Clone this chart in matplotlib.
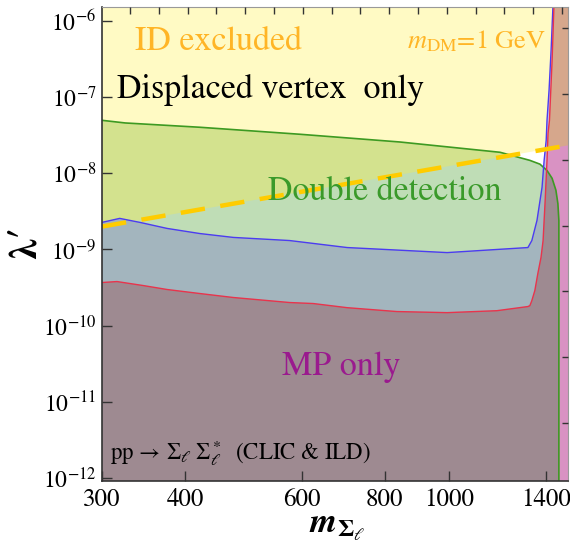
import matplotlib
matplotlib.use("Agg")
import matplotlib.pyplot as plt
import numpy as np
from matplotlib.ticker import FixedLocator, LogFormatterMathtext, NullLocator

plt.rcParams["font.family"] = ["STIXGeneral", "DejaVu Serif"]
plt.rcParams["mathtext.fontset"] = "stix"

# axis ranges
XMIN, XMAX = 300, 1510
YMIN, YMAX = 9.1e-13, 1.53e-6

# orange dashed line (ID bound, m_DM = 1 GeV)
dash_m = [300, 1510]
dash_lam = [2.0e-9, 2.33e-8]

# green curve (double detection)
green_m = [300, 325, 421, 596, 843, 1193, 1287, 1323, 1370, 1404, 1429, 1448,
           1458, 1463, 1463]
green_lam = [4.97e-8, 4.59e-8, 4.03e-8, 3.26e-8, 2.58e-8, 1.89e-8, 1.58e-8,
             1.48e-8, 1.32e-8, 1.09e-8, 8.6e-9, 6.0e-9, 4.0e-9, 2.4e-9, YMIN]

# blue curve
blue_m = [300, 319, 342, 376, 421, 473, 575, 702, 993, 1180, 1314, 1332,
          1356, 1380, 1390, 1400, 1404, 1414, 1424, 1433]
blue_lam = [2.27e-9, 2.56e-9, 2.27e-9, 1.89e-9, 1.62e-9, 1.44e-9, 1.31e-9,
            1.06e-9, 9.1e-10, 1.0e-9, 1.06e-9, 1.31e-9, 2.41e-9, 6.55e-9,
            1.48e-8, 2.72e-8, 4.97e-8, 1.24e-7, 4.15e-7, YMAX]

# red curve (MP)
red_m = [300, 316, 346, 376, 421, 473, 575, 624, 702, 834, 993, 1180, 1314,
         1323, 1332, 1346, 1360, 1375, 1385, 1395, 1404, 1409, 1416, 1429, 1438]
red_lam = [3.68e-10, 3.79e-10, 3.36e-10, 2.98e-10, 2.64e-10, 2.34e-10,
           2.01e-10, 1.95e-10, 1.72e-10, 1.53e-10, 1.48e-10, 1.57e-10,
           1.78e-10, 1.83e-10, 2.13e-10, 2.89e-10, 4.83e-10, 7.85e-10,
           1.31e-9, 4.42e-9, 1.48e-8, 3.36e-8, 4.97e-8, 3.07e-7, YMAX]

fig = plt.figure(figsize=(5.7, 5.54), dpi=100)
ax = fig.add_axes([102 / 570, 1 - 481 / 554, 466 / 570, 474 / 554])
ax.set_xscale("log")
ax.set_yscale("log")
ax.set_xlim(XMIN, XMAX)
ax.set_ylim(YMIN, YMAX)

# region polygons
y_x = dash_m + [XMAX, XMIN]
y_y = dash_lam + [YMAX, YMAX]
g_x = green_m + [XMIN]
g_y = green_lam + [YMIN]
b_x = blue_m + [XMAX, XMAX, XMIN]
b_y = blue_lam + [YMAX, YMIN, YMIN]
r_x = red_m + [XMAX, XMAX, XMIN]
r_y = red_lam + [YMAX, YMIN, YMIN]

(pY,) = ax.fill(y_x, y_y, color="#fffac4", lw=0)
(pG,) = ax.fill(g_x, g_y, color="#bfddb6", lw=0)
(p,) = ax.fill(y_x, y_y, color="#d3e28e", lw=0)
p.set_clip_path(pG)
ax.fill(b_x, b_y, color="#c9bde6", lw=0)
(p,) = ax.fill(b_x, b_y, color="#a3b5be", lw=0)
p.set_clip_path(pG)
ax.fill(r_x, r_y, color="#d992c3", lw=0)
(p,) = ax.fill(r_x, r_y, color="#d6a78c", lw=0)
p.set_clip_path(pY)
(p,) = ax.fill(r_x, r_y, color="#9e8a91", lw=0)
p.set_clip_path(pG)

ax.plot(green_m, green_lam, color="#3d9a22", lw=1.2)
ax.plot(blue_m, blue_lam, color="#4b3cf0", lw=1.0)
ax.plot(red_m, red_lam, color="#e8344c", lw=1.0)
ax.plot(dash_m, dash_lam, color="#ffcc00", lw=3.2, dashes=(5.5, 3.5))

# labels inside
ax.text(0.071, 0.926, "ID excluded", transform=ax.transAxes, color="#ffb526",
        fontsize=24.5, va="center", ha="left")
ax.text(0.952, 0.926, r"$m_{\rm DM}$=1 GeV", transform=ax.transAxes,
        color="#ffb526", fontsize=19, va="center", ha="right")
ax.text(0.032, 0.825, "Displaced vertex  only", transform=ax.transAxes,
        color="black", fontsize=24.5, va="center", ha="left")
ax.text(0.607, 0.61, "Double detection", transform=ax.transAxes,
        color="#3a9a2a", fontsize=24.5, va="center", ha="center")
ax.text(0.513, 0.24, "MP only", transform=ax.transAxes,
        color="#9a1a8e", fontsize=24.5, va="center", ha="center")
ax.text(0.017, 0.059, r"pp$\,\rightarrow\,\Sigma_\ell\;\Sigma_\ell^*$  (CLIC & ILD)",
        transform=ax.transAxes, color="black", fontsize=16.5, va="center",
        ha="left")

# ticks
ax.xaxis.set_major_locator(FixedLocator([300, 400, 600, 800, 1000, 1400]))
ax.xaxis.set_minor_locator(NullLocator())
ax.set_xticklabels(["300", "400", "600", "800", "1000", "1400"])
ax.yaxis.set_major_locator(FixedLocator([1e-12, 1e-11, 1e-10, 1e-9, 1e-8, 1e-7, 1e-6]))
ax.yaxis.set_minor_locator(NullLocator())
ax.yaxis.set_major_formatter(LogFormatterMathtext())
ax.tick_params(axis="both", which="major", direction="in", length=7,
               width=1, color="#333333", pad=5)
ax.tick_params(axis="x", labelsize=18)
ax.tick_params(axis="y", labelsize=17, pad=4)

for s in ["left", "bottom"]:
    ax.spines[s].set_color("#333333")
    ax.spines[s].set_linewidth(1.2)
for s in ["top", "right"]:
    ax.spines[s].set_color("#999999")
    ax.spines[s].set_linewidth(0.8)

# frame ticks on top and right
axt = ax.twiny()
axt.set_xlim(0, 16.18)
axt.set_xticks([0.972 + k for k in range(16)])
axt.tick_params(axis="x", direction="in", length=5, width=1, color="#333333",
                labeltop=False)
axr = ax.twinx()
axr.set_ylim(0, 7.2)
axr.set_yticks([0.88 + k for k in range(7)])
axr.tick_params(axis="y", direction="in", length=4, width=1, color="#333333",
                labelright=False)
for a in (axt, axr):
    for s in a.spines.values():
        s.set_visible(False)

fig.text(337 / 570, 1 - 526 / 554, r"$\mathbfit{m}_{\mathbf{\Sigma}_{\ell}}$",
         fontsize=25, ha="center", va="center")
fig.text(26 / 570, 1 - 242 / 554, "λ′", fontsize=28, fontweight="bold",
         rotation=90, ha="center", va="center")

fig.savefig("out.png", dpi=100)
